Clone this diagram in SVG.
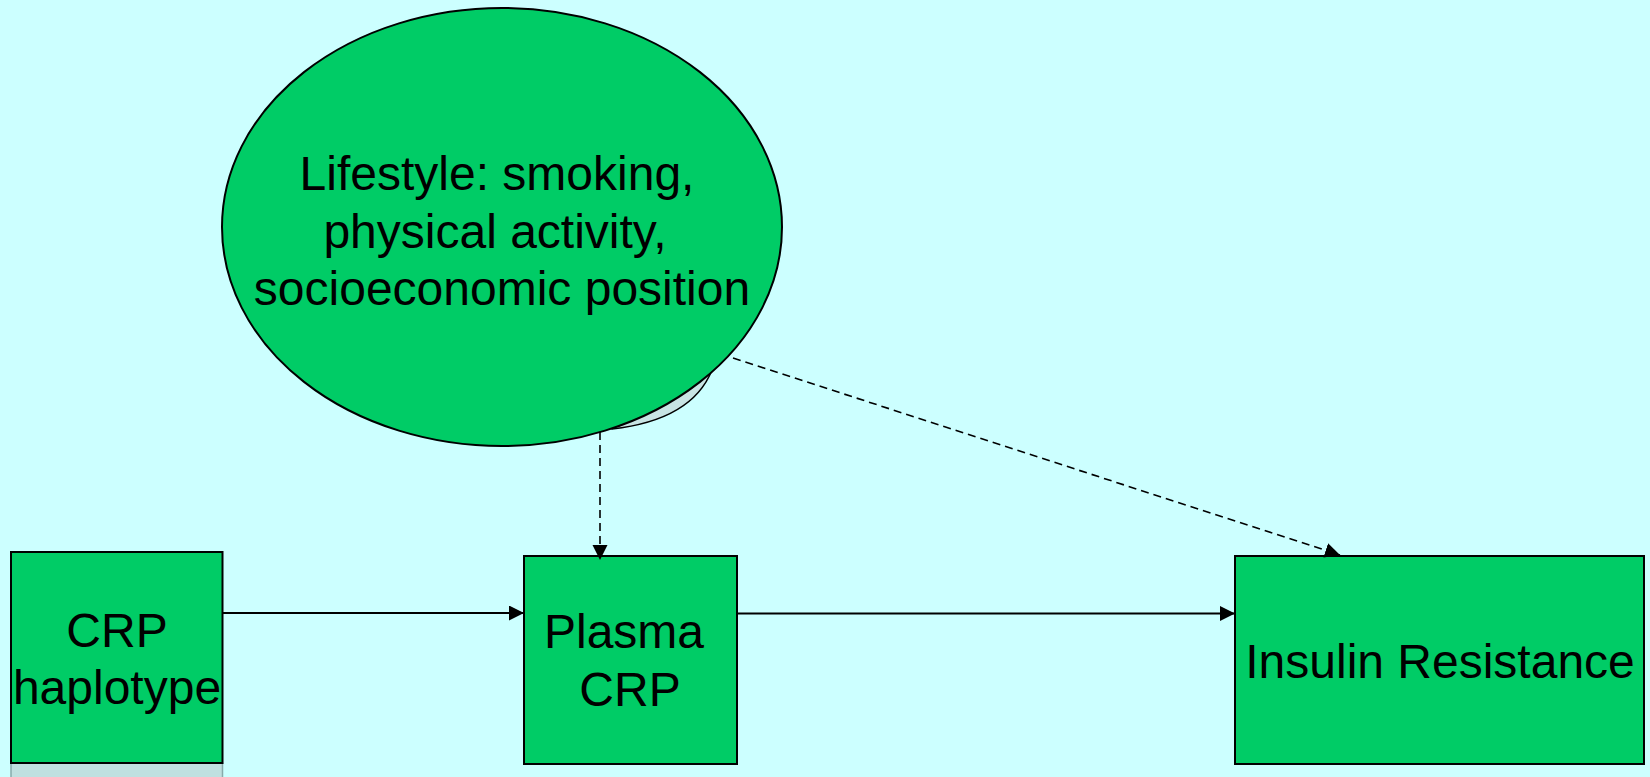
<svg xmlns="http://www.w3.org/2000/svg" width="1650" height="777" viewBox="0 0 1650 777">
<style>
.node{fill:#00CC66;stroke:#000;stroke-width:2}
.lbl{font-family:"Liberation Sans",Arial,sans-serif;font-size:48px;fill:#000;text-anchor:middle}
.solid{stroke:#000;stroke-width:2;fill:none}
.dash{stroke:#000;stroke-width:1.6;fill:none;stroke-dasharray:8 5}
</style>
<defs>
<marker id="ah" markerUnits="userSpaceOnUse" markerWidth="16" markerHeight="16" refX="15" refY="7.5" orient="auto">
<path d="M0,0 L15,7.5 L0,15 z" fill="#000"/>
</marker>
</defs>
<rect x="0" y="0" width="1650" height="777" fill="#CCFFFF"/>
<g id="lifestyle">
<path d="M712,370 Q692,420 612,429 L560,380 z" fill="#C8E4E4" stroke="#000" stroke-width="1.5"/>
<ellipse class="node" cx="502" cy="227" rx="280" ry="219" stroke-width="1.6"/>
<text class="lbl" x="497" y="190">Lifestyle: smoking,</text>
<text class="lbl" x="495" y="248">physical activity,</text>
<text class="lbl" x="502" y="305">socioeconomic position</text>
</g>
<g id="crp-haplotype">
<rect x="11" y="763" width="211.5" height="30" fill="#BFE0E0" stroke="#8AA" stroke-width="1.5"/>
<rect class="node" x="11" y="552" width="211.5" height="211"/>
<text class="lbl" x="117" y="647">CRP</text>
<text class="lbl" x="117" y="704">haplotype</text>
</g>
<g id="plasma-crp">
<rect class="node" x="524" y="556" width="213" height="208"/>
<text class="lbl" x="624" y="648">Plasma</text>
<text class="lbl" x="630" y="706">CRP</text>
</g>
<g id="insulin-resistance">
<rect class="node" x="1235" y="556" width="409" height="208"/>
<text class="lbl" x="1440" y="678">Insulin Resistance</text>
</g>
<g id="connectors">
<line class="solid" x1="223" y1="613" x2="524" y2="613" marker-end="url(#ah)"/>
<line class="solid" x1="737" y1="613.5" x2="1235" y2="613.5" marker-end="url(#ah)"/>
<line class="dash" x1="600" y1="432" x2="600" y2="560" marker-end="url(#ah)"/>
<line class="dash" x1="733" y1="358" x2="1340" y2="555" marker-end="url(#ah)"/>
</g>
</svg>
